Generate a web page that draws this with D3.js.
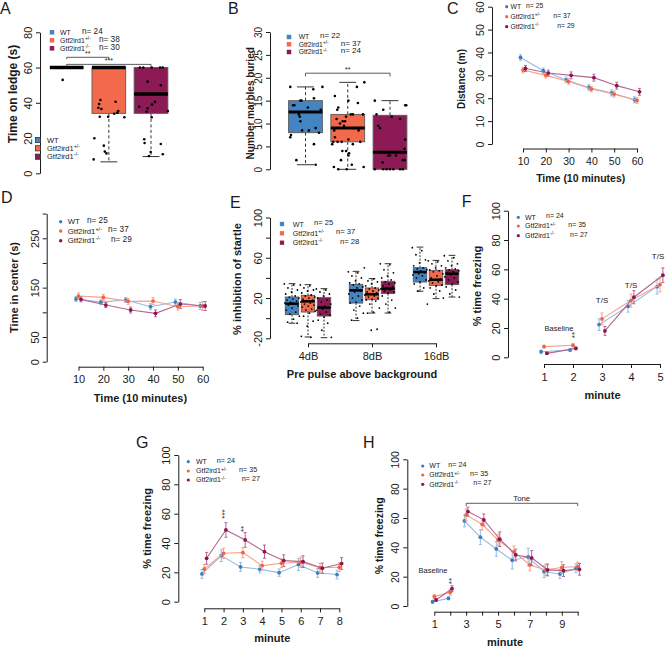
<!DOCTYPE html>
<html><head><meta charset="utf-8">
<script src="https://cdn.jsdelivr.net/npm/d3@7"></script>
<style>body{margin:0;background:#fff} svg{font-family:"Liberation Sans",Arial,Helvetica,sans-serif}</style>
</head><body><svg id="c" width="666" height="647"></svg>
<script>
// ================= DATA =================
const groupNames = ["WT", "Gtf2ird1", "Gtf2ird1"];
const groupSup = ["", "+/-", "-/-"];
const boxFill = ["#4584c2", "#f26a4b", "#8c1b55"];
const dotCol = ["#3b7ec0", "#f4623f", "#8a1650"];
const lineCol = ["#92bbe2", "#f7a08b", "#b5668f"];

// A: time on ledge (s)
const aN = ["n= 24", "n= 38", "n= 30"];
const aTicks = [0, 20, 40, 60, 80];
const aStats = [
  {lo: 60, q1: 60, med: 60, q3: 60, hi: 60},
  {lo: 6.5, q1: 34, med: 60, q3: 60, hi: 60},
  {lo: 9.5, q1: 34, med: 45, q3: 60, hi: 60}];
// [value, horizontal jitter as fraction of box width]
const aPtsWT = [[53,-0.12],[60,-0.45],[60,-0.3],[60,-0.1],[60,0.1],[60,0.3],[60,0.45]];
const aPtsHet = [[39.3,-0.29],[41.6,-0.25],[37.2,-0.31],[36.5,-0.22],[40.6,0.2],[35.3,0.28],[34.4,0.25],[33.8,0.16],[31.8,0.46],[32.1,-0.27],[32.1,-0.02],[19.9,-0.43],[15.7,-0.15],[12.3,-0.12],[11.3,-0.07],[7.9,-0.45],[60,-0.4],[60,-0.2],[60,0],[60,0.2],[60,0.35]];
const aPtsHom = [[37.8,-0.35],[36.9,-0.1],[35,-0.13],[39,0.03],[40.5,0.12],[52,-0.1],[50,0.29],[35.3,0.5],[31.8,0.02],[19.3,-0.2],[17.2,-0.19],[16.6,0.29],[12.1,-0.01],[10.8,0.35],[9.8,-0.06],[60,-0.33],[60,-0.23],[60,0.02],[60,0.27],[60,0.35]];

// B: marbles buried
const bN = ["n= 22", "n= 37", "n= 24"];
const bTicks = [0, 5, 10, 15, 20, 25, 30];
const bStats = [
  {lo: 1, q1: 8, med: 12.5, q3: 15, hi: 18},
  {lo: 0, q1: 6, med: 9, q3: 12, hi: 19},
  {lo: 0, q1: 0, med: 3.7, q3: 11.8, hi: 15}];
const bPtsWT = [[18,-0.45],[18,0.5],[17.5,0.23],[14,-0.37],[14,-0.33],[15,-0.15],[15,-0.12],[15.5,0.25],[13.5,0.07],[11.5,-0.17],[10.5,-0.15],[8.5,-0.1],[8.5,0.1],[8,0.4],[7.5,-0.43],[7,-0.45],[5.5,0.25],[2,-0.27],[13,0.45],[1,0.3],[12,-0.2],[9,0.3]];
const bPtsHet = [[19,0.49],[18,0.27],[16,-0.38],[15,0.02],[14.5,0.3],[13.5,-0.28],[13,-0.31],[12,0.09],[12,0.15],[11.5,-0.05],[10.5,-0.15],[10.5,-0.08],[10,-0.23],[9.5,-0.11],[8.5,-0.4],[8.5,0.32],[6.5,0.02],[6,-0.43],[6,-0.18],[6,-0.3],[5.5,-0.46],[4,-0.16],[4,-0.05],[3.5,0.04],[2,-0.2],[1,0.12],[0.5,-0.41],[0.5,0.47],[0,-0.28],[0,-0.03],[12,0.45],[9,0.17],[7,-0.38],[5.5,0.15],[3,0.02],[11,-0.33],[6,0.37]];
const bPtsHom = [[15,-0.45],[14,0.48],[13,-0.2],[12,-0.4],[11.5,0.05],[9.5,-0.35],[9,-0.3],[6.5,0.45],[4.5,0.43],[3,0],[3,0.18],[2,0.38],[2,0.43],[1.5,-0.22],[0,-0.45],[0,-0.2],[0,-0.1],[0,0],[0,0.1],[0,0.3],[0,0.38],[14,0.45],[11,0.3],[3,-0.05]];

// C: distance (m)
const cN = ["n= 25", "n= 37", "n= 29"];
const cX = [10, 20, 30, 40, 50, 60];
const cYTicks = [0, 10, 20, 30, 40, 50, 60];
const cWT = [37.8, 32, 28, 24.7, 22.3, 19.3];
const cHet = [32.3, 30, 27.3, 24, 21.8, 19];
const cHom = [33, 31, 30, 29, 25.5, 22.8];
const cWTse = [1.2, 1.2, 1.2, 1.2, 1.3, 1.3];
const cHetse = [1.2, 1.2, 1.2, 1.2, 1.3, 1.2];
const cHomse = [1.3, 1.3, 1.5, 1.5, 1.5, 1.5];

// D: time in center (s)
const dN = ["n= 25", "n= 37", "n= 29"];
const dX = [10, 20, 30, 40, 50, 60];
const dYTicks = [0, 50, 100, 150, 200, 250, 300];
const dYLabels = [0, 50, 150, 250];
const dWT = [127, 120.6, 124.9, 111.4, 120.8, 112.8];
const dHet = [133, 130.3, 122.2, 122.8, 111.4, 112.8];
const dHom = [126.3, 114.8, 104.7, 97.9, 116.8, 112.8];
const dWTse = [5, 5, 5, 6, 6, 7];
const dHetse = [6, 6, 6, 7, 7, 9];
const dHomse = [5, 5, 6, 7, 9, 9];

// E: prepulse inhibition
const eN = ["n= 25", "n= 37", "n= 28"];
const eCats = ["4dB", "8dB", "16dB"];
const eYTicks = [-20, 0, 20, 40, 60, 80, 100];
const eYLabels = [-20, 20, 60, 100];
const eWT = [{lo:-5,q1:3.5,med:14.4,q3:21,hi:34.3},{lo:-2.4,q1:15,med:27.6,q3:33.6,hi:46.5},{lo:26.7,q1:35.9,med:45.8,q3:50.2,hi:70.6}];
const eHet = [{lo:-18.7,q1:6.1,med:16.7,q3:22.7,hi:33.3},{lo:5.1,q1:18.4,med:23.7,q3:30,hi:39.3},{lo:19.4,q1:32.6,med:38.2,q3:47.5,hi:57.4}];
const eHom = [{lo:-19.4,q1:2.1,med:10.5,q3:20.4,hi:29.3},{lo:5.1,q1:24.4,med:29.3,q3:36.6,hi:54.1},{lo:21,q1:33.3,med:44.2,q3:48.2,hi:62.4}];
const ePtsWT = [
  [34,33,30,28,26,24,22,21,20,19,18,17,16,15,14,13,12,10,8,6,4,2,-1,-4,-5],
  [46,45,42,40,37,35,34,33,31,30,28,27,26,24,22,20,18,16,15,12,8,5,0,-2],
  [70,67,63,58,55,52,50,49,48,47,46,45,44,43,42,40,38,36,34,30,27,14]];
const ePtsHet = [
  [33,32,30,28,27,25,23,22,21,20,19,18,17,16,15,14,13,12,11,9,8,7,5,2,-3,-8,-18,-19],
  [50,39,37,36,34,32,30,29,28,27,26,25,24,23,22,21,20,19,18,17,14,10,6,5,-11,-12],
  [57,56,54,52,50,48,47,46,44,42,40,39,38,37,36,35,33,32,30,27,24,20]];
const ePtsHom = [
  [29,28,26,24,22,20,18,16,14,12,11,10,9,8,6,4,3,1,-2,-5,-12,-19],
  [54,53,48,45,42,40,38,36,35,34,32,31,30,29,28,27,26,25,22,18,14,10,6],
  [62,60,57,54,52,50,49,48,47,46,45,44,43,41,40,38,36,34,31,28,24,21]];

// F: fear conditioning training
const fN = ["n= 24", "n= 35", "n= 27"];
const fX = [1, 2, 3, 4, 5];
const fYTicks = [0, 20, 40, 60, 80, 100];
const fWT = [3.8, 5, 22.3, 34.8, 48.2];
const fHet = [7.3, 8.2, 26.2, 38.7, 49.6];
const fHom = [2.7, 6.1, 18, 41, 56];
const fWTse = [1, 1, 4, 4, 5];
const fHetse = [1, 1.2, 4, 4.5, 5];
const fHomse = [0.8, 1, 3, 4.5, 5];

// G: contextual fear
const gN = ["n= 24", "n= 35", "n= 27"];
const gX = [1, 2, 3, 4, 5, 6, 7, 8];
const gYTicks = [0, 20, 40, 60, 80, 100];
const gWT = [18.9, 31.4, 23.7, 22.1, 19.8, 25.3, 19.6, 18.5];
const gHet = [22.3, 33, 33.5, 24.6, 26.2, 26.9, 23.2, 23.5];
const gHom = [29.6, 48.9, 42.1, 34.1, 28, 27.3, 22.8, 26];
const gWTse = [3, 4, 3, 2.5, 2.5, 4, 3, 3];
const gHetse = [3, 3.5, 3.5, 3, 3, 3.5, 3, 3];
const gHomse = [4, 5, 5, 4.5, 4, 4, 3.5, 4];

// H: cued fear
const hN = ["n= 24", "n= 35", "n= 27"];
const hX = [1, 2, 3, 4, 5, 6, 7, 8, 9, 10];
const hXLabels = [1, 3, 5, 7, 9];
const hYTicks = [0, 20, 40, 60, 80, 100];
const hWT = [2.9, 5.2, 58, 46.9, 38.9, 31.2, 33.4, 23.4, 21.8, 25.7];
const hHet = [6.4, 9.3, 62.1, 55.7, 45, 36.9, 28, 24.6, 26.2, 26.9];
const hHom = [4.1, 11.8, 64.4, 58.7, 45.5, 34.8, 32.8, 24.6, 24.1, 25];
const hWTse = [1, 1, 4, 5, 5, 6, 6, 4, 3, 3];
const hHetse = [1.5, 2, 4, 4, 4, 4, 4, 4, 4, 3];
const hHomse = [1, 2, 3, 4, 5, 4, 5, 4, 4, 4];

// ================= DRAWING =================
const svg = d3.select("#c");
const INK = "#1a1a1a";

function yAxis(sc, x, ticks, labeled, fs) {
  const ax = d3.axisLeft(sc).tickValues(ticks).tickSize(4).tickSizeOuter(0)
    .tickFormat(d => labeled.includes(d) ? String(d) : "");
  const g = svg.append("g").attr("transform", `translate(${x},0)`).call(ax);
  g.attr("font-family", null).attr("font-size", null);
  g.selectAll("path,line").attr("stroke", INK);
  g.selectAll(".tick text").attr("x", 0).attr("dy", null).attr("y", -8)
    .attr("text-anchor", "middle").attr("transform", "rotate(-90)")
    .attr("font-size", fs).attr("fill", INK);
}
function xAxis(sc, y, ticks, fmt, fs) {
  const ax = d3.axisBottom(sc).tickValues(ticks).tickSize(4).tickSizeOuter(0).tickFormat(fmt);
  const g = svg.append("g").attr("transform", `translate(0,${y})`).call(ax);
  g.attr("font-family", null).attr("font-size", null);
  g.selectAll("path,line").attr("stroke", INK);
  g.selectAll(".tick text").attr("dy", null).attr("y", 16.5).attr("font-size", fs).attr("fill", INK);
}
function label(txt, x, y, fs, opts = {}) {
  const t = svg.append("text").attr("x", x).attr("y", y).attr("font-size", fs)
    .attr("fill", INK).text(txt);
  if (opts.bold) t.attr("font-weight", "bold");
  if (opts.anchor) t.attr("text-anchor", opts.anchor);
  if (opts.rot) t.attr("transform", `rotate(${opts.rot},${x},${y})`);
  return t;
}
function ytitle(txt, cx, cy, fs) {
  label(txt, cx + fs * 0.36, cy, fs, {bold: true, anchor: "middle", rot: -90});
}
function xtitle(txt, cx, cy, fs) {
  label(txt, cx, cy + fs * 0.36, fs, {bold: true, anchor: "middle"});
}
function groupText(i, x, y, fs) {
  const t = svg.append("text").attr("x", x).attr("y", y).attr("font-size", fs).attr("fill", INK);
  t.append("tspan").text(groupNames[i]);
  if (groupSup[i]) t.append("tspan").attr("font-size", fs * 0.7).attr("dy", -fs * 0.4).text(groupSup[i]);
}
function legend(kind, x, ys, tx, nx, ns, fs, nfs, size, stroke) {
  ys.forEach((y, i) => {
    if (kind === "sq") svg.append("rect").attr("x", x - size / 2).attr("y", y - size / 2)
      .attr("width", size).attr("height", size).attr("fill", boxFill[i])
      .attr("stroke", stroke || "none").attr("stroke-width", 0.8);
    else svg.append("circle").attr("cx", x).attr("cy", y).attr("r", size).attr("fill", dotCol[i]);
    groupText(i, tx, y + fs * 0.35, fs);
    if (ns) label(ns[i], nx[i], y + nfs * 0.35 - 1.5, nfs);
  });
}
function boxplot(xsc, ysc, cx, hw, s, fill, medW, dash) {
  const g = svg.append("g");
  const wl = (a, b) => {
    g.append("line").attr("x1", xsc(cx)).attr("x2", xsc(cx)).attr("y1", ysc(a)).attr("y2", ysc(b))
      .attr("stroke", "#333").attr("stroke-dasharray", dash);
    g.append("line").attr("x1", xsc(cx - hw / 2)).attr("x2", xsc(cx + hw / 2)).attr("y1", ysc(b)).attr("y2", ysc(b))
      .attr("stroke", "#333");
  };
  if (s.hi > s.q3) wl(s.q3, s.hi);
  if (s.lo < s.q1) wl(s.q1, s.lo);
  g.append("rect").attr("x", xsc(cx - hw)).attr("width", xsc(cx + hw) - xsc(cx - hw))
    .attr("y", ysc(s.q3)).attr("height", ysc(s.q1) - ysc(s.q3))
    .attr("fill", fill).attr("stroke", "#5a5a5a").attr("stroke-width", 0.9);
  g.append("line").attr("x1", xsc(cx - hw)).attr("x2", xsc(cx + hw)).attr("y1", ysc(s.med)).attr("y2", ysc(s.med))
    .attr("stroke", "#000").attr("stroke-width", medW);
}
function points(xsc, ysc, cx, w, pts, r) {
  svg.append("g").selectAll("circle").data(pts).join("circle")
    .attr("cx", d => xsc(cx + d[1] * w)).attr("cy", d => ysc(d[0])).attr("r", r).attr("fill", "#000");
}
function series(xs, ys, ses, xsc, ysc, k, dx, segs) {
  const g = svg.append("g");
  const pts = xs.map((x, i) => [xsc(x + dx), ysc(ys[i])]);
  segs.forEach(([a, b]) => {
    g.append("path").attr("d", d3.line()(pts.slice(a, b + 1))).attr("fill", "none")
      .attr("stroke", lineCol[k]).attr("stroke-width", 1.1);
  });
  xs.forEach((x, i) => {
    const px = xsc(x + dx), y1 = ysc(ys[i] - ses[i]), y2 = ysc(ys[i] + ses[i]);
    g.append("line").attr("x1", px).attr("x2", px).attr("y1", y1).attr("y2", y2).attr("stroke", lineCol[k]);
    [y1, y2].forEach(yy => g.append("line").attr("x1", px - 1.5).attr("x2", px + 1.5).attr("y1", yy).attr("y2", yy).attr("stroke", lineCol[k]));
  });
  g.selectAll("circle").data(pts).join("circle").attr("cx", d => d[0]).attr("cy", d => d[1])
    .attr("r", 1.9).attr("fill", dotCol[k]);
}
function panelLetter(t, x, y) { label(t, x, y, 16); }

// ---------- Panel A ----------
{
  const y = d3.scaleLinear().domain([0, 80]).range([173.3, 32.3]);
  const x = d3.scaleLinear().domain([1, 3]).range([66.7, 151]);
  panelLetter("A", 0, 13.5);
  yAxis(y, 40, aTicks, aTicks, 11);
  ytitle("Time on ledge (s)", 12.5, 94, 12);
  const all = [aPtsWT, aPtsHet, aPtsHom];
  aStats.forEach((s, i) => boxplot(x, y, i + 1, 0.4, s, boxFill[i], 3.5, "3,2.5"));
  all.forEach((p, i) => points(x, y, i + 1, 0.8, p, 1.3));
  // significance brackets
  const br = (x1, x2, v, vEnd) => svg.append("path")
    .attr("d", `M${x(x1)},${y(vEnd)}V${y(v)}H${x(x2)}V${y(vEnd)}`).attr("fill", "none").attr("stroke", "#333").attr("stroke-width", 0.8);
  br(1, 2, 65.8, 64.8);
  br(1, 3, 61.8, 60.5);
  label("**", x(1.5), y(66.6), 7, {anchor: "middle"});
  label("***", x(2), y(62.4), 7, {anchor: "middle"});
  legend("sq", 52, [32.3, 40.3, 48.3], 60, [82, 99, 99], aN, 7, 8.2, 4.5);
  legend("sq", 38, [140, 148.3, 156.7], 47, null, null, 7.5, 0, 5.2, "#333");
}

// ---------- Panel B ----------
{
  const y = d3.scaleLinear().domain([0, 30]).range([169.3, 32]);
  const x = d3.scaleLinear().domain([1, 3]).range([305.5, 390]);
  panelLetter("B", 228, 14);
  yAxis(y, 270, bTicks, bTicks, 10);
  ytitle("Number marbles buried", 250, 103.3, 10);
  const all = [bPtsWT, bPtsHet, bPtsHom];
  bStats.forEach((s, i) => boxplot(x, y, i + 1, 0.4, s, boxFill[i], 3, "3,2.5"));
  all.forEach((p, i) => points(x, y, i + 1, 0.8, p, 1.3));
  svg.append("path").attr("d", `M${x(1)},${y(20.3)}V${y(21)}H${x(3)}V${y(20.3)}`)
    .attr("fill", "none").attr("stroke", "#333").attr("stroke-width", 0.8);
  label("**", x(2), y(21.3), 7, {anchor: "middle"});
  legend("sq", 289, [37, 44.3, 52], 298.7, [320, 340.7, 340.7], bN, 6.8, 8, 4.5);
}

// ---------- Panel C ----------
{
  const y = d3.scaleLinear().domain([0, 60]).range([144, 6.7]);
  const x = d3.scaleLinear().domain([10, 60]).range([523, 637]);
  panelLetter("C", 447, 13.5);
  yAxis(y, 492, cYTicks, cYTicks, 10.5);
  xAxis(x, 148.5, cX, d => d, 10.5);
  ytitle("Distance (m)", 461.7, 79, 10);
  xtitle("Time (10 minutes)", 580.7, 178, 10.5);
  const seg = [[0, 5]];
  series(cX, cWT, cWTse, x, y, 0, -1.1, seg);
  series(cX, cHet, cHetse, x, y, 1, 0, seg);
  series(cX, cHom, cHomse, x, y, 2, 1.1, seg);
  legend("dot", 506.7, [6.7, 16.7, 26.7], 510.5, [526, 553.3, 557.3], cN, 6.8, 6.8, 1.6);
}

// ---------- Panel D ----------
{
  const y = d3.scaleLinear().domain([0, 300]).range([361.7, 213.6]);
  const x = d3.scaleLinear().domain([10, 60]).range([78.5, 202.7]);
  panelLetter("D", 1, 203.3);
  yAxis(y, 46.7, dYTicks, dYLabels, 11);
  xAxis(x, 366.7, dX, d => d, 11);
  ytitle("Time in center (s)", 14, 287.5, 11);
  xtitle("Time (10 minutes)", 140.5, 397.7, 11);
  const seg = [[0, 5]];
  series(dX, dWT, dWTse, x, y, 0, -1, seg);
  series(dX, dHet, dHetse, x, y, 1, 0, seg);
  series(dX, dHom, dHomse, x, y, 2, 1, seg);
  legend("dot", 60.7, [221.7, 231, 240.7], 67.7, [87, 108, 111], dN, 7.8, 8.2, 1.7);
}

// ---------- Panel E ----------
{
  const y = d3.scaleLinear().domain([-20, 100]).range([338.3, 217.5]);
  const x = d3.scaleLinear().domain([0, 2]).range([308, 436]);
  panelLetter("E", 230, 208);
  yAxis(y, 270, eYTicks, eYLabels, 11);
  xAxis(x, 343.3, [0, 1, 2], d => eCats[d], 11);
  ytitle("% inhibition of startle", 236.7, 279, 11);
  xtitle("Pre pulse above background", 362, 374, 11);
  const stats = [eWT, eHet, eHom];
  const pts = [ePtsWT, ePtsHet, ePtsHom];
  const jit = i => ((i * 0.6180339887) % 1) - 0.5;
  eCats.forEach((c, gi) => {
    stats.forEach((st, k) => {
      const cx = gi + (k - 1) * 0.25;
      boxplot(x, y, cx, 0.105, st[gi], boxFill[k], 2.5, "2,1.5");
      points(x, y, cx, 0.24, pts[k][gi].map((v, i) => [v, jit(i)]), 0.9);
    });
  });
  legend("sq", 282, [224, 233.3, 242.7], 292.7, [314, 336, 340], eN, 7.2, 7.6, 4.3);
}

// ---------- Panel F ----------
{
  const y = d3.scaleLinear().domain([0, 100]).range([357.3, 210.7]);
  const x = d3.scaleLinear().domain([1, 5]).range([544, 660]);
  panelLetter("F", 461.7, 206.7);
  yAxis(y, 508, fYTicks, fYTicks, 11);
  xAxis(x, 364, fX, d => d, 11);
  ytitle("% time freezing", 476.7, 286, 11);
  xtitle("minute", 602.5, 395, 11);
  const seg = [[0, 1], [2, 4]];
  series(fX, fWT, fWTse, x, y, 0, -0.1, seg);
  series(fX, fHet, fHetse, x, y, 1, 0, seg);
  series(fX, fHom, fHomse, x, y, 2, 0.1, seg);
  label("Baseline", 559, 331, 7.5, {anchor: "middle"});
  label("**", 577, 335, 8, {anchor: "middle", rot: -90});
  label("T/S", x(3), 302.5, 8, {anchor: "middle"});
  label("T/S", x(4), 287.5, 8, {anchor: "middle"});
  label("T/S", x(5) - 2, 258.5, 8, {anchor: "middle"});
  legend("dot", 518.3, [217.3, 226, 235.7], 525, [546, 568.3, 570], fN, 7, 7, 1.6);
}

// ---------- Panel G ----------
{
  const y = d3.scaleLinear().domain([0, 100]).range([601.7, 455]);
  const x = d3.scaleLinear().domain([1, 8]).range([204.3, 339.3]);
  panelLetter("G", 136, 448);
  yAxis(y, 178.3, gYTicks, gYTicks, 11);
  xAxis(x, 608.3, gX, d => d, 11);
  ytitle("% time freezing", 146.7, 528.3, 11);
  xtitle("minute", 272.3, 638.3, 11);
  const seg = [[0, 7]];
  series(gX, gWT, gWTse, x, y, 0, -0.12, seg);
  series(gX, gHet, gHetse, x, y, 1, 0, seg);
  series(gX, gHom, gHomse, x, y, 2, 0.12, seg);
  label("***", x(2) + 3, 514, 8, {anchor: "middle", rot: -90});
  label("**", x(3) + 3, 529, 8, {anchor: "middle", rot: -90});
  legend("dot", 188.3, [461.7, 471, 480], 196, [216.7, 239, 241.7], gN, 7, 7.2, 1.6);
}

// ---------- Panel H ----------
{
  const y = d3.scaleLinear().domain([0, 100]).range([606, 459.3]);
  const x = d3.scaleLinear().domain([1, 10]).range([434.3, 577.7]);
  panelLetter("H", 363, 448);
  yAxis(y, 407.3, hYTicks, hYTicks, 10.5);
  xAxis(x, 611.7, hX, d => hXLabels.includes(d) ? d : "", 11);
  ytitle("% time freezing", 379, 535.8, 10.5);
  xtitle("minute", 505, 641.7, 11);
  const seg = [[0, 1], [2, 9]];
  series(hX, hWT, hWTse, x, y, 0, -0.11, seg);
  series(hX, hHet, hHetse, x, y, 1, 0, seg);
  series(hX, hHom, hHomse, x, y, 2, 0.11, seg);
  label("Baseline", 433, 573, 7.5, {anchor: "middle"});
  label("**", 454, 581, 8, {anchor: "middle", rot: -90});
  svg.append("path").attr("d", `M${x(3)},${506}V${503.3}H${x(10)}V${506}`)
    .attr("fill", "none").attr("stroke", "#333").attr("stroke-width", 0.8);
  label("Tone", 521.7, 500.5, 7.8, {anchor: "middle"});
  legend("dot", 422.7, [466, 475, 484.3], 429.3, [448.3, 470, 473.3], hN, 7, 7.2, 1.6);
}
</script></body></html>
